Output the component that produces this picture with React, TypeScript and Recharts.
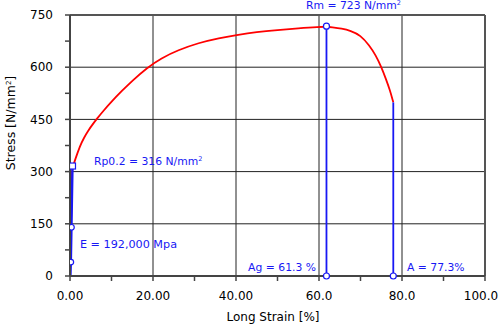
import { ComposedChart, Line, XAxis, YAxis, CartesianGrid, ReferenceLine, Customized } from "recharts";

// elastic part of the stress-strain curve (strain %, stress N/mm2)
const elasticStrain = [0, 0.5, 0.8];
const elasticStress = [0, 300, 318];

// plastic part
const strain = [0.8, 1.2, 2.4, 3.4, 4.4, 5.4, 6.5, 8, 10, 12.5, 15, 18.5, 22, 26, 31, 36, 40, 45, 50, 55, 60, 62, 63, 65.5, 67.6, 70, 72.1, 73.7, 75, 76.1, 77.1, 77.9];
const stress = [318, 333, 374, 398, 418, 435, 452, 474, 501, 532, 561, 598, 626, 649, 670, 684, 692, 701, 707, 712, 716, 716.5, 715, 711, 705, 692, 663, 634, 601, 567, 534, 499];

// blue markers: elastic line, Rm / Ag line, A line
const markX = [0.1, 0.2, 0.35, 0.6];
const markY = [0, 40, 140, 316];
const agX = 61.8;
const rmY = 718;
const aX = 77.9;
const aY = 499;

const xTicks = [0, 10, 20, 30, 40, 50, 60, 70, 80, 90, 100];
const xLabels: Record<number, string> = { 0: "0.00", 20: "20.00", 40: "40.00", 60: "60.0", 80: "80.0", 100: "100.0" };
const yTicks = [0, 75, 150, 225, 300, 375, 450, 525, 600, 675, 750];

const elasticCurve = elasticStrain.map((x, i) => ({ x, y: elasticStress[i] }));
const curve = strain.map((x, i) => ({ x, y: stress[i] }));
const elastic = markX.map((x, i) => ({ x, y: markY[i] }));
const agLine = [{ x: agX, y: 0 }, { x: agX, y: rmY }];
const aLine = [{ x: aX, y: 0 }, { x: aX, y: aY }];

const BLUE = "#1818f4";
const FONT = "DejaVu Sans, Verdana, sans-serif";

const ElasticDot = (props: any) => {
  const { cx, cy, index } = props;
  if (index === 0) return <g key={index} />;
  if (index === 3) return <rect key={index} x={cx - 3} y={cy - 3} width={6} height={6} fill="white" stroke={BLUE} strokeWidth={1.2} />;
  return <circle key={index} cx={cx} cy={cy} r={2.8} fill="white" stroke={BLUE} strokeWidth={1.2} />;
};

const RingDot = (props: any) => (
  <circle key={props.index} cx={props.cx} cy={props.cy} r={3} fill="white" stroke={BLUE} strokeWidth={1.2} />
);

const BottomDot = (props: any) =>
  props.index === 0 ? <RingDot {...props} /> : <g key={props.index} />;

// x tick: last label nudged left so it stays inside the frame
const XTick = (props: any) => {
  const { x, y, payload } = props;
  const label = xLabels[payload.value] ?? "";
  const shift = payload.value === 100 ? -4 : 0;
  return (
    <text x={x + shift} y={y} dy="0.71em" textAnchor="middle" fill="#000" fontSize={12} fontFamily={FONT}>
      {label}
    </text>
  );
};

const Labels = () => (
  <g fontFamily={FONT} fontSize={10.8} fill={BLUE}>
    <text x={306} y={9}>Rm =  723 N/mm<tspan fontSize={6.5} dy={-4}>2</tspan></text>
    <text x={94} y={165}>Rp0.2 =  316 N/mm<tspan fontSize={6.5} dy={-4}>2</tspan></text>
    <text x={80} y={248} fontSize={11.2}>E =  192,000 Mpa</text>
    <text x={316} y={271} textAnchor="end">Ag =  61.3 %</text>
    <text x={407} y={271}>A =  77.3%</text>
    <text x={273} y={321} textAnchor="middle" fill="#000" fontSize={12}>Long Strain [%]</text>
    <text x={15} y={123} textAnchor="middle" fill="#000" fontSize={12.5} transform="rotate(-90 15 123)">
      Stress [N/mm<tspan fontSize={7} dy={-4}>2</tspan><tspan dy={4}>]</tspan>
    </text>
  </g>
);

export default function App() {
  return (
    <div style={{ position: "absolute", left: 0, top: 0, background: "#fff" }}>
      <ComposedChart width={500} height={324} margin={{ top: 15, right: 15, bottom: 0, left: 0 }}>
        <CartesianGrid
          stroke="#222"
          strokeWidth={1}
          verticalValues={[20, 40, 60, 80]}
          horizontalValues={[150, 300, 450, 600]}
        />
        <XAxis
          type="number"
          dataKey="x"
          domain={[0, 100]}
          ticks={xTicks}
          height={48}
          tickSize={5}
          tickMargin={10}
          axisLine={{ stroke: "#444", strokeWidth: 2 }}
          tickLine={{ stroke: "#444", strokeWidth: 1.5 }}
          tick={<XTick />}
          allowDataOverflow
        />
        <YAxis
          type="number"
          dataKey="y"
          domain={[0, 750]}
          ticks={yTicks}
          tickFormatter={(v: number) => (v % 150 === 0 ? String(v) : "")}
          width={70}
          tickSize={5}
          tickMargin={12}
          axisLine={{ stroke: "#444", strokeWidth: 2 }}
          tickLine={{ stroke: "#444", strokeWidth: 1.5 }}
          tick={{ fill: "#000", fontSize: 12, fontFamily: FONT }}
        />
        <ReferenceLine x={100} stroke="#555" strokeWidth={2} />
        <ReferenceLine y={750} stroke="#555" strokeWidth={2} />
        <Line data={elasticCurve} dataKey="y" type="linear" stroke="#ff0000" strokeWidth={1.8} dot={false} isAnimationActive={false} />
        <Line data={curve} dataKey="y" type="basis" stroke="#ff0000" strokeWidth={1.8} dot={false} isAnimationActive={false} />
        <Line data={elastic} dataKey="y" type="linear" stroke={BLUE} strokeWidth={2.4} dot={<ElasticDot />} isAnimationActive={false} />
        <Line data={agLine} dataKey="y" type="linear" stroke={BLUE} strokeWidth={1.8} dot={<RingDot />} isAnimationActive={false} />
        <Line data={aLine} dataKey="y" type="linear" stroke={BLUE} strokeWidth={1.8} dot={<BottomDot />} isAnimationActive={false} />
        <Customized component={Labels} />
      </ComposedChart>
    </div>
  );
}
